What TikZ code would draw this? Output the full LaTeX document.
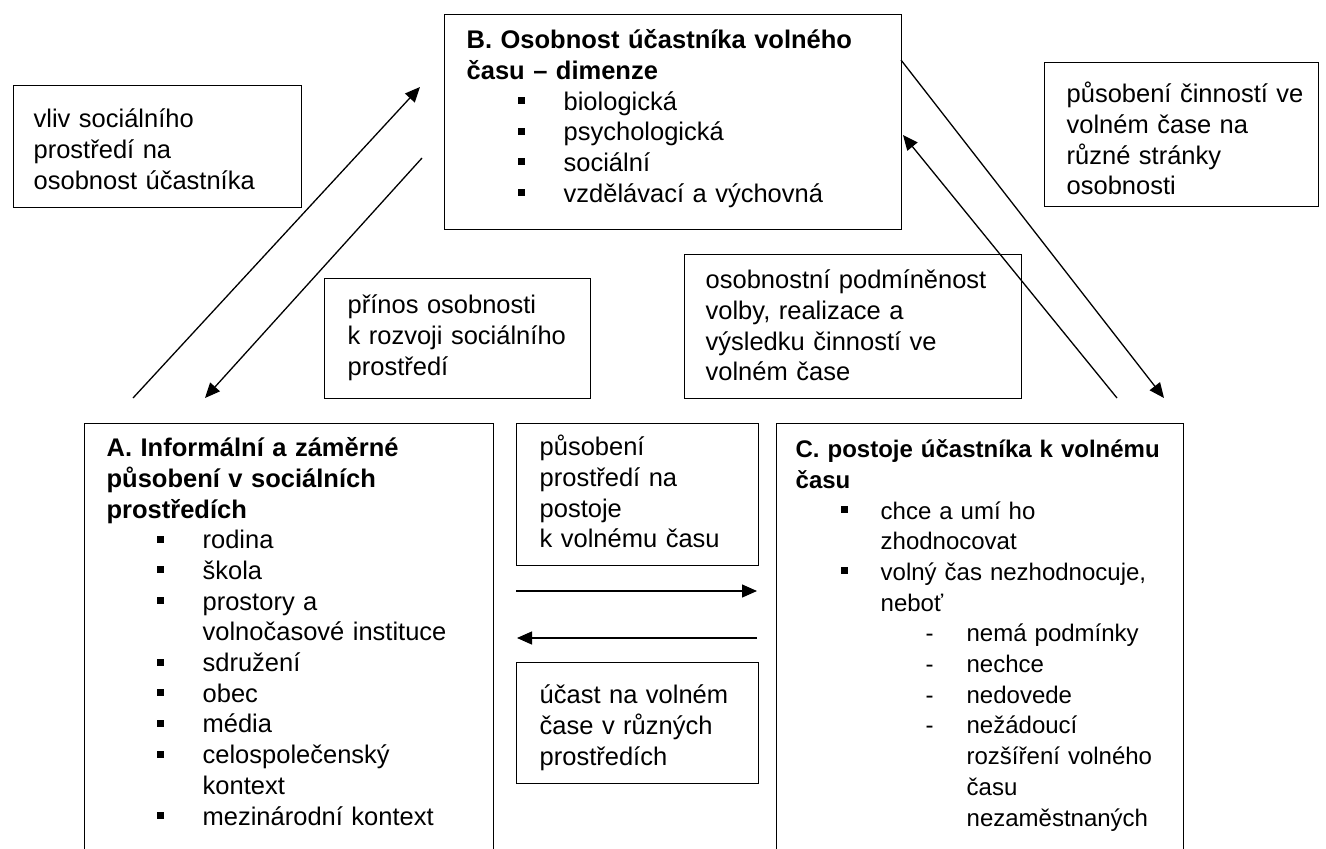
\documentclass[tikz,border=0pt]{standalone}
\usepackage{fontspec}
\setmainfont{Liberation Sans}
\usepackage{tikz}
\usetikzlibrary{arrows.meta}

\newlength{\bulind}
\newlength{\txtind}
\newcommand{\nl}{\hfil\break}
\newcommand{\sqbul}{\raisebox{6pt}{\rule{7pt}{7pt}}}
\newcommand{\bitem}[1]{\par\hangindent=\txtind\hangafter=1\noindent\hspace*{\bulind}\makebox[\dimexpr\txtind-\bulind\relax][l]{\sqbul}#1}
\newcommand{\ditem}[1]{\par\hangindent=171pt\hangafter=1\noindent\hspace*{130pt}\makebox[41pt][l]{-}#1}
\newcommand{\noshrink}{\rightskip=-60pt plus 1fil\hyphenpenalty=10000\exhyphenpenalty=10000}

\begin{document}
\begin{tikzpicture}[x=1pt, y=-1pt]
% Define styles
\tikzstyle{txtbox} = [rectangle, draw=black, line width=1.3pt, anchor=north west, align=left, inner ysep=0pt, font=\fontsize{25.5}{30.7}\selectfont]
\tikzstyle{arrow} = [line width=1.3pt, -{Triangle[length=15pt,width=13pt]}]

\fill [white] (0,0) rectangle (1326,849);
\useasboundingbox (0,0) rectangle (1326,849);
\clip (0,0) rectangle (1326,849);

% Define nodes
\node (vliv) [txtbox, inner xsep=20pt, text width=248pt, text height=42pt, text depth=80pt] at (13,85)
  {\noshrink vliv sociálního\nl prostředí na\nl osobnost účastníka\par};
\node (osobnost) [txtbox, inner xsep=22pt, text width=413pt, text height=34pt, text depth=181pt] at (444,14)
  {\noshrink\setlength{\bulind}{51pt}\setlength{\txtind}{97pt}%
   \textbf{B. Osobnost účastníka volného\nl času – dimenze}%
   \bitem{biologická}\bitem{psychologická}\bitem{sociální}\bitem{vzdělávací a výchovná}\par};
\node (cinnosti) [txtbox, inner xsep=22pt, text width=230pt, text height=40pt, text depth=104pt] at (1044,62)
  {\noshrink působení činností ve\nl volném čase na\nl různé stránky\nl osobnosti\par};
\node (prinos) [txtbox, inner xsep=23pt, text width=220pt, text height=35pt, text depth=85pt] at (324,278)
  {\noshrink přínos osobnosti\nl k~rozvoji sociálního\nl prostředí\par};
\node (podminenost) [txtbox, inner xsep=21pt, text width=295pt, text height=34pt, text depth=110pt] at (684,254)
  {\noshrink osobnostní podmíněnost\nl volby, realizace a\nl výsledku činností ve\nl volném čase\par};
\node (prostredi) [txtbox, inner xsep=22pt, text width=365pt, text height=33pt, text depth=467pt] at (84,423)
  {\noshrink\setlength{\bulind}{50pt}\setlength{\txtind}{96pt}%
   \textbf{A. Informální a záměrné\nl působení v sociálních\nl prostředích}%
   \bitem{rodina}\bitem{škola}\bitem{prostory a\nl volnočasové instituce}\bitem{sdružení}%
   \bitem{obec}\bitem{média}\bitem{celospolečenský\nl kontext}\bitem{mezinárodní kontext}\par};
\node (postoje) [txtbox, font=\fontsize{24}{30.7}\selectfont, inner xsep=19pt, text width=369pt, text height=34pt, text depth=466pt] at (776,423)
  {\noshrink\setlength{\bulind}{45pt}\setlength{\txtind}{85pt}%
   \textbf{C. postoje účastníka k~volnému\nl času}%
   \bitem{chce a umí ho\nl zhodnocovat}\bitem{volný čas nezhodnocuje,\nl neboť}%
   \ditem{nemá podmínky}\ditem{nechce}\ditem{nedovede}%
   \ditem{nežádoucí\nl rozšíření volného\nl času\nl nezaměstnaných}\par};
\node (napostoje) [txtbox, inner xsep=23pt, text width=196pt, text height=32pt, text depth=110pt] at (516,423)
  {\noshrink působení\nl prostředí na\nl postoje\nl k~volnému času\par};
\node (ucast) [txtbox, inner xsep=23pt, text width=196pt, text height=41pt, text depth=80pt] at (516,662)
  {\noshrink účast na volném\nl čase v~různých\nl prostředích\par};

% Arrow ends
\coordinate (AtoB-s) at (133,398);
\coordinate (AtoB-e) at (420,87);
\coordinate (BtoA-s) at (422,158);
\coordinate (BtoA-e) at (205,398);
\coordinate (BtoC-s) at (901,60);
\coordinate (BtoC-e) at (1164,398);
\coordinate (CtoB-s) at (1117,398);
\coordinate (CtoB-e) at (903,135);
\coordinate (AtoC-s) at (516,591);
\coordinate (AtoC-e) at (757,591);
\coordinate (CtoA-s) at (757,638);
\coordinate (CtoA-e) at (517,638);

% Draw arrows
\draw [arrow] (AtoB-s) -- (AtoB-e);
\draw [arrow] (BtoA-s) -- (BtoA-e);
\draw [arrow] (BtoC-s) -- (BtoC-e);
\draw [arrow] (CtoB-s) -- (CtoB-e);
\draw [arrow] (AtoC-s) -- (AtoC-e);
\draw [arrow] (CtoA-s) -- (CtoA-e);
\end{tikzpicture}
\end{document}
